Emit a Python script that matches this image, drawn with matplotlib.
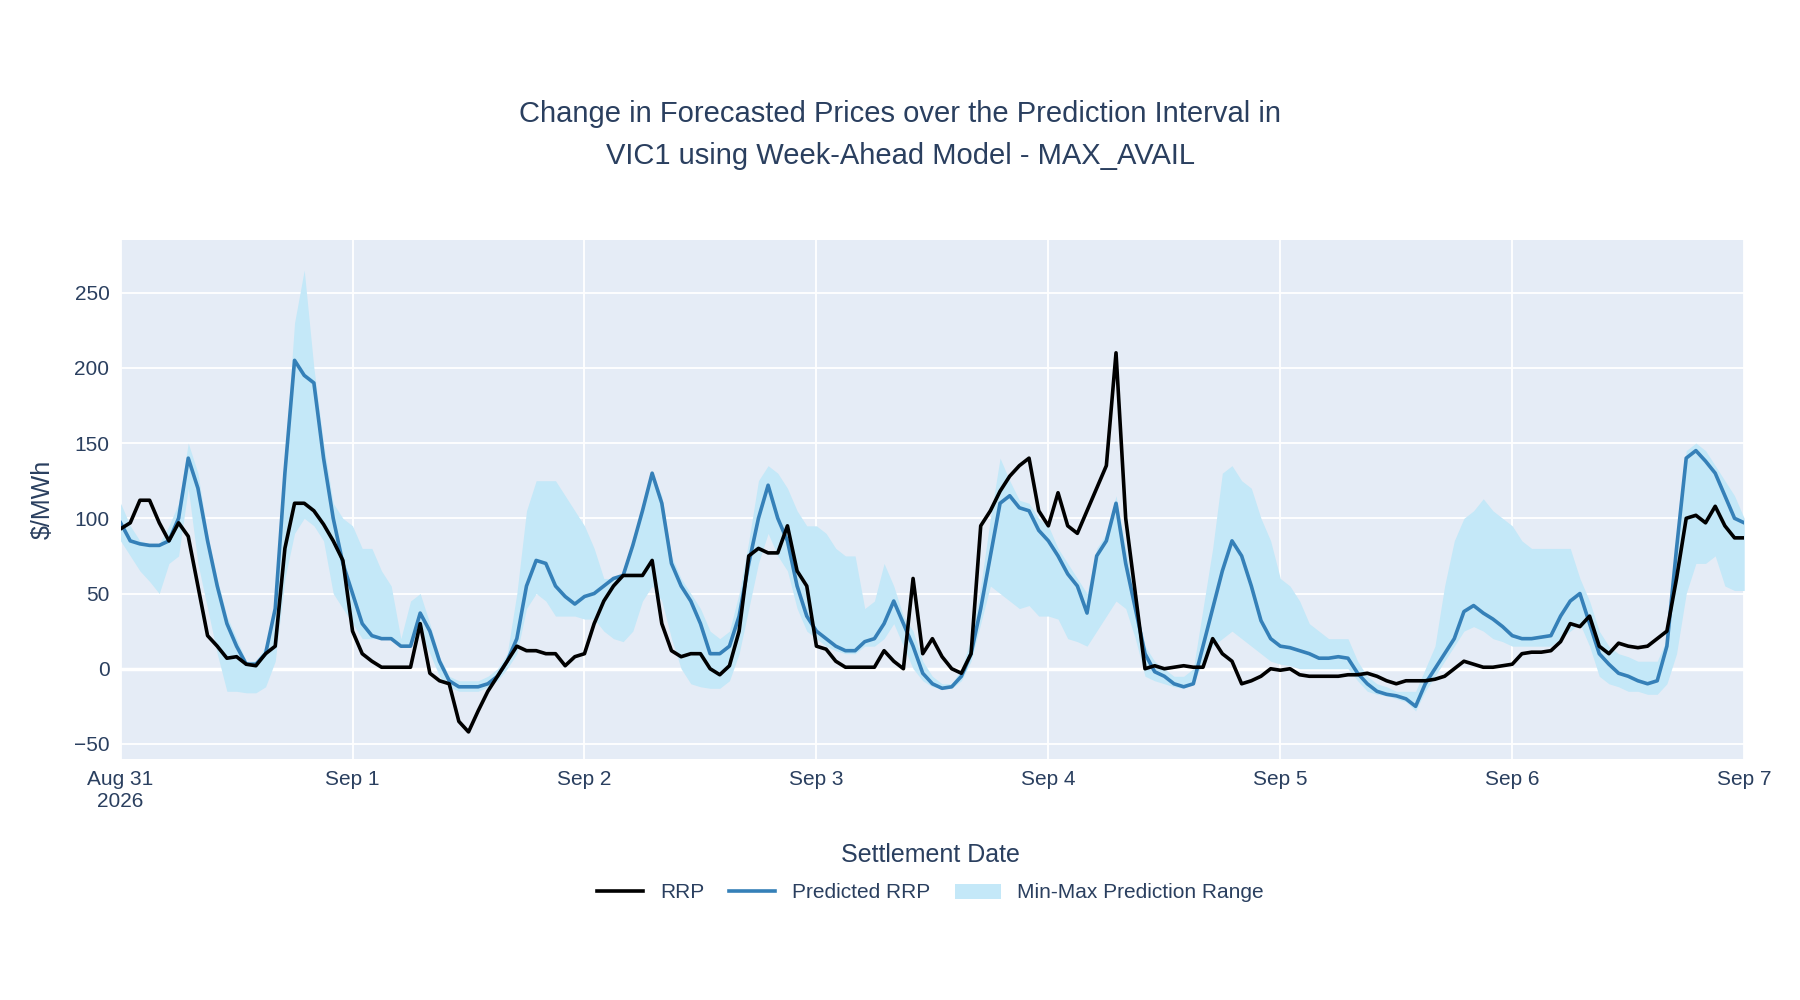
import matplotlib
matplotlib.use("Agg")
import matplotlib.pyplot as plt
import matplotlib.dates as mdates
import pandas as pd

times = pd.date_range("2026-08-31 00:00", "2026-09-07 00:00", freq="1h")

rrp = [93,97,112,112,97,85,97,88,55,22,15,7,8,3,2,10,15,80,110,110,105,96,85,72,
       25,10,5,1,1,1,1,30,-3,-8,-10,-35,-42,-28,-15,-5,5,15,12,12,10,10,2,8,
       10,30,45,55,62,62,62,72,30,12,8,10,10,0,-4,2,25,75,80,77,77,95,65,55,
       15,13,5,1,1,1,1,12,5,0,60,10,20,8,0,-3,10,95,105,118,128,135,140,105,
       95,117,95,90,105,120,135,210,100,50,0,2,0,1,2,1,1,20,10,5,-10,-8,-5,0,
       -1,0,-4,-5,-5,-5,-5,-4,-4,-3,-5,-8,-10,-8,-8,-8,-7,-5,0,5,3,1,1,2,
       3,10,11,11,12,18,30,28,35,15,10,17,15,14,15,20,25,60,100,102,97,108,95,87,87]

pred = [97,85,83,82,82,85,100,140,120,85,55,30,15,3,3,10,40,130,205,195,190,140,100,70,
        50,30,22,20,20,15,15,37,25,5,-8,-12,-12,-12,-10,-5,5,20,55,72,70,55,48,43,
        48,50,55,60,62,82,105,130,110,70,55,45,30,10,10,15,35,70,100,122,100,85,55,35,
        25,20,15,12,12,18,20,30,45,30,15,-3,-10,-13,-12,-5,10,40,75,110,115,107,105,92,
        85,75,63,55,37,75,85,110,70,40,10,-2,-5,-10,-12,-10,15,40,65,85,75,55,32,20,
        15,14,12,10,7,7,8,7,-3,-10,-15,-17,-18,-20,-25,-10,0,10,20,38,42,37,33,28,
        22,20,20,21,22,35,45,50,30,10,3,-3,-5,-8,-10,-8,15,80,140,145,138,130,115,100,97]

pmax = [110,95,85,83,83,95,110,150,130,90,60,35,20,5,5,15,45,140,230,265,200,150,110,100,
        95,80,80,65,55,20,45,50,30,8,-5,-8,-8,-8,-5,0,10,50,105,125,125,125,115,105,
        95,80,60,60,62,85,110,130,115,75,60,50,40,25,20,25,50,85,125,135,130,120,105,95,
        95,90,80,75,75,40,45,70,55,35,25,5,-5,-10,-10,0,20,55,100,140,125,112,110,100,
        95,80,70,60,50,80,90,115,80,45,15,5,0,-5,-5,0,40,80,130,135,125,120,100,85,
        60,55,45,30,25,20,20,20,5,-5,-10,-12,-15,-15,-15,0,15,55,85,100,105,113,105,100,
        95,85,80,80,80,80,80,60,45,25,15,10,8,5,5,5,20,90,145,150,145,135,125,115,100]

pmin = [85,75,65,58,50,70,75,120,70,40,10,-15,-15,-16,-16,-12,5,60,90,100,95,85,50,40,
        30,20,20,20,20,15,15,25,10,-5,-12,-15,-15,-15,-12,-8,0,10,40,50,45,35,35,35,
        33,33,25,20,18,25,45,55,45,20,0,-10,-12,-13,-13,-8,10,40,70,90,75,65,40,25,
        20,15,12,10,10,15,15,20,30,15,0,-8,-12,-13,-13,-8,5,30,55,50,45,40,42,35,
        35,33,20,18,15,25,35,45,40,20,-5,-8,-10,-12,-13,-10,5,15,20,25,20,15,10,5,
        3,2,0,0,0,0,0,0,-8,-15,-17,-18,-20,-22,-28,-15,-5,5,15,25,28,25,20,18,
        15,15,15,15,15,20,25,30,15,-5,-10,-12,-15,-15,-17,-17,-10,10,50,70,70,75,55,52,52]

title = "Change in Forecasted Prices over the Prediction Interval in\nVIC1 using Week-Ahead Model - MAX_AVAIL"

plt.rcParams['font.family'] = ['Liberation Sans', 'DejaVu Sans']
txt = '#2a3f5f'
fig = plt.figure(figsize=(18, 10), dpi=100)
ax = fig.add_axes([0.067, 0.241, 0.902, 0.519])
ax.set_facecolor('#E5ECF6')
lo = [min(a, b) for a, b in zip(pmin, pmax)]
hi = [max(a, b) for a, b in zip(pmin, pmax)]
ax.fill_between(times, lo, hi, color='#c4e8f8', lw=0, label='Min-Max Prediction Range', zorder=2)
ax.plot(times, pred, color='#3580b8', lw=2.6, label='Predicted RRP', zorder=3)
ax.plot(times, rrp, color='black', lw=2.6, label='RRP', zorder=4)
ax.set_xlim(times[0], times[-1])
ax.set_ylim(-60, 285)
ax.set_yticks([-50, 0, 50, 100, 150, 200, 250])
ax.set_yticklabels(['\u221250', '0', '50', '100', '150', '200', '250'])
ax.grid(True, color='white', lw=1.3, zorder=1)
ax.axhline(0, color='white', lw=2.5, zorder=1)
ax.set_axisbelow(True)
for s in ax.spines.values():
    s.set_visible(False)
ax.tick_params(length=0, labelsize=15, labelcolor=txt, pad=8)
ticks = pd.date_range("2026-08-31", "2026-09-07", freq="1D")
ax.set_xticks(ticks)
ax.set_xticklabels(["Aug 31\n2026"] + [t.strftime("%b %-d") for t in ticks[1:]])
ax.set_ylabel("$/MWh", fontsize=18, color=txt, labelpad=14)
fig.text(0.517, 0.138, "Settlement Date", ha='center', fontsize=18, color=txt)
fig.text(0.5, 0.865, title, ha='center', va='center', fontsize=21, color=txt, linespacing=1.6)
h, l = ax.get_legend_handles_labels()
order = [2, 1, 0]
fig.legend([h[i] for i in order], [l[i] for i in order], loc='center', bbox_to_anchor=(0.517, 0.107),
           ncol=3, frameon=False, fontsize=15, labelcolor=txt, handlelength=2.2, columnspacing=1.2)
fig.savefig("out.png", dpi=100, facecolor='white')
